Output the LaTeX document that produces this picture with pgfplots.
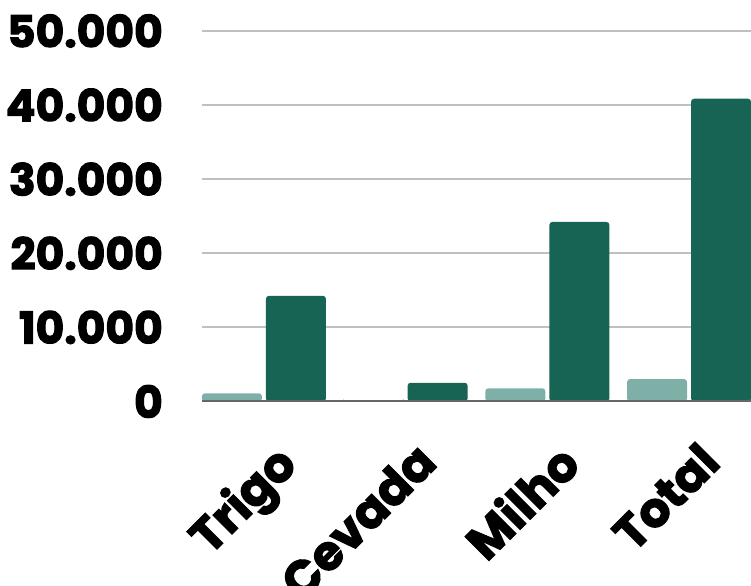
\documentclass[border=0pt]{standalone}
\usepackage{pgfplots}
\pgfplotsset{compat=1.18}
\usepackage{fontspec}
\setmainfont{Poppins}[BoldFeatures={FakeBold=2.5}]
\definecolor{lightbar}{HTML}{7FB0A8}
\definecolor{darkbar}{HTML}{176354}
\definecolor{gridc}{HTML}{C0C0C0}
\definecolor{basec}{HTML}{666666}
\begin{document}
\begin{tikzpicture}
\begin{axis}[
  scale only axis,
  width=549pt, height=370.5pt,
  xmin=-0.437, xmax=3.437,
  ymin=0, ymax=50000,
  ybar=4pt, bar width=60pt,
  axis line style={draw=none},
  major tick length=0pt,
  ytick={0,10000,20000,30000,40000,50000},
  ymajorgrids, grid style={gridc, line width=2pt},
  xtick={0,1,2,3},
  xticklabels={Trigo,Cevada,Milho,Total},
  scaled y ticks=false,
  /pgf/number format/.cd, fixed, 1000 sep={.}, assume math mode=true,
  /pgfplots/.cd,
  yticklabel style={font=\fontsize{44}{44}\selectfont\bfseries, text=black, anchor=east, inner sep=0pt, xshift=-39pt},
  xticklabel style={font=\fontsize{48}{48}\selectfont\bfseries, text=black, xshift=8pt, yshift=-38pt, rotate=45, anchor=north east, inner sep=0pt},
]
\addplot[fill=lightbar, draw=none, rounded corners=3pt] coordinates {(0,1100) (1,160) (2,1780) (3,3030)};
\addplot[fill=darkbar, draw=none, rounded corners=3pt] coordinates {(0,14260) (1,2530) (2,24230) (3,40860)};
\draw[basec, line width=2.5pt] (rel axis cs:0,0) -- (rel axis cs:1,0);
\end{axis}
\pgfresetboundingbox
\path ([shift={(-202pt,-184.5pt)}]current axis.south west) rectangle ([shift={(0pt,31pt)}]current axis.north east);
\end{tikzpicture}
\end{document}
